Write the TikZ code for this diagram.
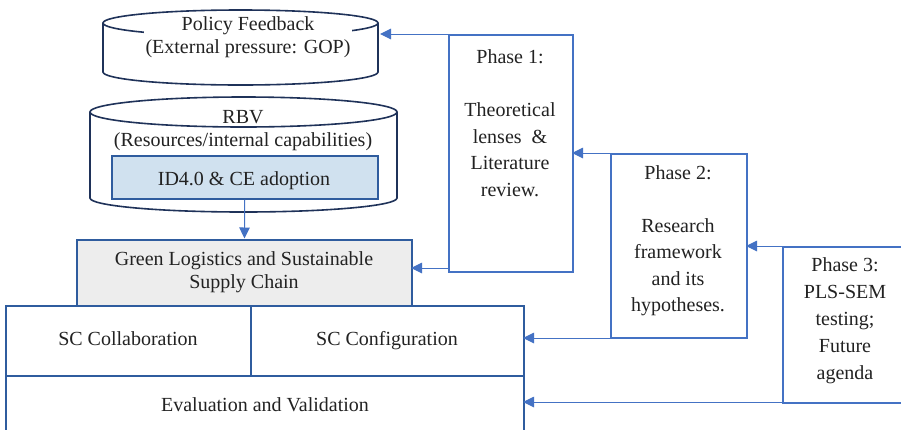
\documentclass[tikz,border=0pt]{standalone}
\usepackage{fontspec}
\setmainfont{Liberation Serif}
\usetikzlibrary{arrows.meta}
\definecolor{lineblue}{HTML}{4472C4}
\definecolor{boxblue}{HTML}{2F5C9E}
\definecolor{navy}{HTML}{1F3259}
\definecolor{idfill}{HTML}{D0E1EF}
\definecolor{grayfill}{HTML}{EDEDED}
\definecolor{txt}{HTML}{222222}
\begin{document}
\begin{tikzpicture}[x=1pt,y=-1pt,
  cyl/.style={draw=navy,line width=1.6pt,fill=white},
  txtnode/.style={text=txt,font=\fontsize{20}{23}\selectfont,align=center,inner sep=0pt},
  phasetxt/.style={text=txt,font=\fontsize{20}{26.5}\selectfont,align=center,inner sep=0pt},
  boxnode/.style={rectangle,inner sep=0pt,anchor=north west},
  phasebox/.style={boxnode,draw=lineblue,line width=1.8pt,fill=white},
  conn/.style={draw=lineblue,line width=1pt,-{Triangle[length=11pt,width=10.5pt]}}
]
\useasboundingbox (0,0) rectangle (901,429);
\fill[white] (0,0) rectangle (901,429);

% Policy feedback cylinder
\filldraw[cyl] (103,23) -- (103,72) arc[start angle=180,end angle=360,x radius=137.5pt,y radius=13pt] -- (378,23);
\filldraw[cyl] (240.5,23) ellipse [x radius=137.5pt,y radius=13pt];
\node[txtnode,fill=white,inner xsep=2pt] (policy) at (248,37) {Policy Feedback\\(External pressure: GOP)};
\coordinate (policyR) at (380,34);

% RBV cylinder
\filldraw[cyl] (90,112) -- (90,198) arc[start angle=180,end angle=360,x radius=153.5pt,y radius=14pt] -- (397,112);
\filldraw[cyl] (243.5,112) ellipse [x radius=153.5pt,y radius=15pt];
\node[txtnode] (rbv) at (243,131) {RBV\\(Resources/internal capabilities)};

% ID4.0 box
\node[boxnode,draw=boxblue,line width=1.5pt,fill=idfill,minimum width=266pt,minimum height=43pt] (id) at (111,155) {};
\node[txtnode,anchor=base] (idtxt) at (244,185) {ID4.0 \& CE adoption};

% Green box
\node[boxnode,draw=boxblue,line width=2pt,fill=grayfill,minimum width=335pt,minimum height=66.5pt] (green) at (76,238.5) {};
\node[txtnode] (greentxt) at (244,272) {Green Logistics and Sustainable\\Supply Chain};

% Lower boxes
\node[boxnode,draw=boxblue,line width=1.5pt,minimum width=245pt,minimum height=70pt] (collab) at (5,305) {};
\node[boxnode,draw=boxblue,line width=1.5pt,minimum width=273pt,minimum height=70pt] (config) at (250,305) {};
\node[txtnode,anchor=base] (collabtxt) at (128,345) {SC Collaboration};
\node[txtnode,anchor=base] (configtxt) at (387,345) {SC Configuration};
\node[boxnode,draw=boxblue,line width=1.5pt,minimum width=518pt,minimum height=70pt] (eval) at (5,375) {};
\node[txtnode,anchor=base] (evaltxt) at (265,411) {Evaluation and Validation};

% Phase boxes
\node[phasebox,minimum width=124pt,minimum height=237pt] (p1) at (448,34) {};
\node[phasetxt] (p1txt) at (510,123) {Phase 1:\\[26.5pt]Theoretical\\lenses \ \&\\Literature\\review.};
\node[phasebox,minimum width=136pt,minimum height=184pt] (p2) at (610,153) {};
\node[phasetxt] (p2txt) at (678,241) {Phase 2:\\[26pt]Research\\framework\\and its\\hypotheses.};
\node[phasebox,minimum width=140pt,minimum height=156pt] (p3) at (782,246) {};
\node[phasetxt,font=\fontsize{20}{27}\selectfont] (p3txt) at (845,321) {Phase 3:\\PLS-SEM\\testing;\\Future\\agenda};

% Arrow targets
\coordinate (greenR) at (411,268);
\coordinate (p1R) at (572,153);
\coordinate (configR) at (523,338);
\coordinate (p2R) at (746,246);
\coordinate (evalR) at (523,402);
\coordinate (p1bl) at (448,268);
\coordinate (p2bl) at (610,338);
\coordinate (p3bl) at (782,402);

% Connectors
\draw[conn] (id.south) -- (green.north);
\draw[conn] (p1.north west) -- (policyR);
\draw[conn] (p1bl) -- (greenR);
\draw[conn] (p2.north west) -- (p1R);
\draw[conn] (p2bl) -- (configR);
\draw[conn] (p3.north west) -- (p2R);
\draw[conn] (p3bl) -- (evalR);
\end{tikzpicture}
\end{document}
